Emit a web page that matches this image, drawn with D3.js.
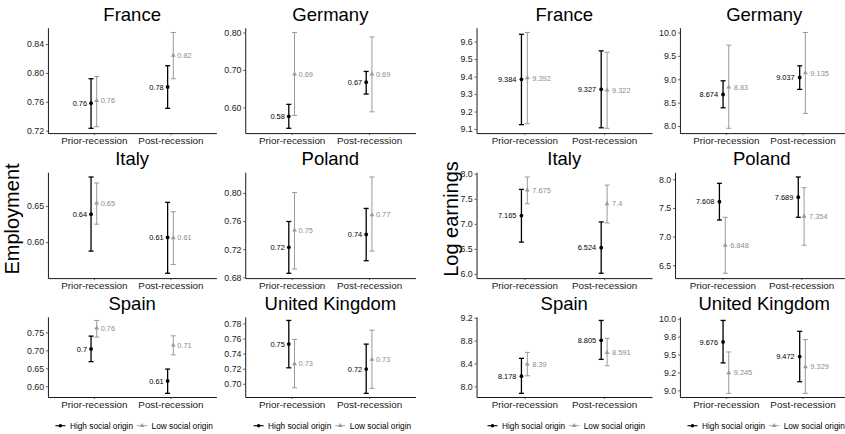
<!DOCTYPE html>
<html><head><meta charset="utf-8">
<script src="https://cdn.jsdelivr.net/npm/d3@7"></script>
<style>
body{margin:0;background:#fff}
svg{display:block;font-family:"Liberation Sans",Arial,Helvetica,sans-serif}
</style>
</head><body>
<svg id="chart" width="845" height="434"></svg>
<script>
// ---------- data ----------
const countries = ["France","Germany","Italy","Poland","Spain","United Kingdom"];
const periods = ["Prior-recession","Post-recession"];
const origins = ["High social origin","Low social origin"];

// Employment: per country, [prior, post]
const empHighEst = [[0.758,0.7805],[0.576,0.667],[0.6386,0.6065],[0.7226,0.741],[0.704,0.6148],[0.7526,0.7195]];
const empHighLo  = [[0.7233,0.751],[0.544,0.6355],[0.5876,0.557],[0.6857,0.7036],[0.6687,0.5804],[0.7212,0.6873]];
const empHighUp  = [[0.792,0.810],[0.608,0.696],[0.690,0.655],[0.7594,0.778],[0.7397,0.648],[0.784,0.7526]];
const empLowEst  = [[0.7615,0.8244],[0.689,0.689],[0.654,0.606],[0.747,0.769],[0.762,0.7145],[0.7265,0.7323]];
const empLowLo   = [[0.7255,0.792],[0.578,0.588],[0.6248,0.569],[0.6918,0.7173],[0.737,0.6874],[0.6947,0.6939]];
const empLowUp   = [[0.795,0.856],[0.80,0.788],[0.6817,0.642],[0.8006,0.8227],[0.7833,0.7405],[0.7588,0.7711]];
const empTickVals = [[0.72,0.76,0.80,0.84],[0.60,0.70,0.80],[0.60,0.65],[0.68,0.72,0.76,0.80],[0.60,0.65,0.70,0.75],[0.70,0.72,0.74,0.76,0.78]];
const empTickLabels = [["0.72","0.76","0.80","0.84"],["0.60","0.70","0.80"],["0.60","0.65"],["0.68","0.72","0.76","0.80"],["0.60","0.65","0.70","0.75"],["0.70","0.72","0.74","0.76","0.78"]];

// Log earnings: per country, [prior, post]
const logHighEst = [[9.384,9.327],[8.674,9.037],[7.165,6.524],[7.608,7.689],[8.178,8.805],[9.676,9.472]];
const logHighLo  = [[9.125,9.107],[8.39,8.783],[6.636,6.014],[7.29,7.337],[7.877,8.472],[9.383,9.12]];
const logHighUp  = [[9.642,9.547],[8.967,9.287],[7.687,7.038],[7.93,8.04],[8.49,9.154],[9.976,9.824]];
const logLowEst  = [[9.392,9.322],[8.83,9.135],[7.675,7.4],[6.848,7.354],[8.39,8.591],[9.245,9.329]];
const logLowLo   = [[9.130,9.104],[7.951,8.27],[7.40,7.018],[6.36,6.849],[8.185,8.36],[8.958,8.958]];
const logLowUp   = [[9.652,9.539],[9.729,10.0],[7.934,7.773],[7.337,7.854],[8.595,8.84],[9.536,9.708]];
const logTickVals = [[9.1,9.2,9.3,9.4,9.5,9.6],[8.0,8.5,9.0,9.5,10.0],[6.0,6.5,7.0,7.5,8.0],[6.5,7.0,7.5,8.0],[8.0,8.4,8.8,9.2],[9.0,9.25,9.5,9.75,10.0]];
const logTickLabels = [["9.1","9.2","9.3","9.4","9.5","9.6"],["8.0","8.5","9.0","9.5","10.0"],["6.0","6.5","7.0","7.5","8.0"],["6.5","7.0","7.5","8.0"],["8.0","8.4","8.8","9.2"],["9.0","9.2","9.5","9.8","10.0"]];

// ---------- layout ----------
const svg = d3.select("#chart");
const HIGH = "#000000", LOW = "#9a9a9a", LOWTXT = "#8c8c8c";
const rowTop = [27.7, 172.2, 316.8], rowBot = [133.1, 278.1, 397];

const figures = [
  {title:"Employment", titleX:18.5, labelLeft:[27,224.3], right:[216.4,415.5], digits:2,
   est:[empHighEst,empLowEst], lo:[empHighLo,empLowLo], up:[empHighUp,empLowUp],
   tv:empTickVals, tl:empTickLabels, gap:4},
  {title:"Log earnings", titleX:458.3, labelLeft:[460.5,659], right:[652,848.5], digits:3,
   est:[logHighEst,logLowEst], lo:[logHighLo,logLowLo], up:[logHighUp,logLowUp],
   tv:logTickVals, tl:logTickLabels, gap:5}
];

function textWidth(str, size){
  const t = svg.append("text").attr("font-size", size).text(str);
  const w = t.node().getComputedTextLength(); t.remove(); return w;
}

const YTICK = 8.8, XTICK = 9.9, TITLE = 18.5, VAL = 7.4, LEG = 8.3;

figures.forEach(fig => {
  svg.append("text")
    .attr("transform", `translate(${fig.titleX},219) rotate(-90)`)
    .attr("text-anchor","middle").attr("font-size",20).attr("fill","#000")
    .text(fig.title);

  countries.forEach((country, ci) => {
    const col = ci % 2, row = Math.floor(ci / 2);
    const top = rowTop[row], bot = rowBot[row];
    const maxW = d3.max(fig.tl[ci], s => textWidth(s, YTICK));
    const left = fig.labelLeft[col] + maxW + 3.8;
    const right = fig.right[col];

    const allLo = d3.min(fig.lo, s => d3.min(s[ci])), allUp = d3.max(fig.up, s => d3.max(s[ci]));
    const pad = (allUp - allLo) * 0.05;
    const y = d3.scaleLinear().domain([allLo - pad, allUp + pad]).range([bot, top]);
    const x = d3.scalePoint().domain(periods).range([left, right]).padding(0.6);
    const dodge = x.step() * 0.037;

    const g = svg.append("g");
    // title
    g.append("text").attr("x",(left+right)/2).attr("y",top-7)
      .attr("text-anchor","middle").attr("font-size",TITLE).attr("fill","#000").text(country);

    // axes
    const ya = g.append("g").attr("transform",`translate(${left},0)`)
      .call(d3.axisLeft(y).tickValues(fig.tv[ci]).tickFormat((d,i)=>fig.tl[ci][i]).tickSize(2).tickSizeOuter(0).tickPadding(1.8));
    ya.selectAll("text").attr("font-size",YTICK).attr("fill","#1a1a1a").attr("font-family",null);
    const xa = g.append("g").attr("transform",`translate(0,${bot})`)
      .call(d3.axisBottom(x).tickSize(2).tickSizeOuter(0).tickPadding(1.5));
    xa.selectAll("text").attr("font-size",XTICK).attr("fill","#1a1a1a").attr("font-family",null);
    [ya, xa].forEach(a => { a.select(".domain").attr("stroke","#000").attr("stroke-width",0.9);
      a.selectAll(".tick line").attr("stroke","#333").attr("stroke-width",0.8); });

    // series
    origins.forEach((o, oi) => {
      const color = oi === 0 ? HIGH : LOW;
      const off = oi === 0 ? -dodge : dodge;
      periods.forEach((p, pi) => {
        const cx = x(p) + off;
        const e = fig.est[oi][ci][pi], l = fig.lo[oi][ci][pi], u = fig.up[oi][ci][pi];
        const sw = oi === 0 ? 1.3 : 1.0;
        g.append("line").attr("x1",cx).attr("x2",cx).attr("y1",y(l)).attr("y2",y(u)).attr("stroke",color).attr("stroke-width",sw);
        [l,u].forEach(v => g.append("line").attr("x1",cx-2.5).attr("x2",cx+2.5).attr("y1",y(v)).attr("y2",y(v)).attr("stroke",color).attr("stroke-width",sw));
        if (oi === 0) g.append("circle").attr("cx",cx).attr("cy",y(e)).attr("r",1.9).attr("fill",color);
        else g.append("path").attr("d", d3.symbol(d3.symbolTriangle, 10)()).attr("transform",`translate(${cx},${y(e)})`).attr("fill",color);
        const lab = String(+e.toFixed(fig.digits));
        g.append("text").attr("x", oi === 0 ? cx - fig.gap : cx + fig.gap).attr("y", y(e))
          .attr("dy","0.35em").attr("text-anchor", oi === 0 ? "end" : "start")
          .attr("font-size",VAL).attr("fill", oi === 0 ? "#000" : LOWTXT).text(lab);
      });
    });

    // legend under bottom row
    if (row === 2) {
      const ly = 425.7, keyW = 10;
      const w0 = textWidth(origins[0], LEG), w1 = textWidth(origins[1], LEG);
      const total = keyW + 4.5 + w0 + 4 + keyW + 4.5 + w1;
      let lx = (left + right) / 2 + 2 - total / 2;
      origins.forEach((o, oi) => {
        const color = oi === 0 ? HIGH : LOW;
        g.append("line").attr("x1",lx).attr("x2",lx+keyW).attr("y1",ly).attr("y2",ly).attr("stroke",color).attr("stroke-width",oi===0?1.1:0.9);
        if (oi === 0) g.append("circle").attr("cx",lx+keyW/2).attr("cy",ly).attr("r",1.8).attr("fill",color);
        else g.append("path").attr("d", d3.symbol(d3.symbolTriangle, 9)()).attr("transform",`translate(${lx+keyW/2},${ly})`).attr("fill",color);
        lx += keyW + 4.5;
        g.append("text").attr("x",lx).attr("y",ly).attr("dy","0.35em").attr("font-size",LEG).attr("fill","#000").text(o);
        lx += (oi === 0 ? w0 : w1) + 4;
      });
    }
  });
});
</script>
</body></html>
